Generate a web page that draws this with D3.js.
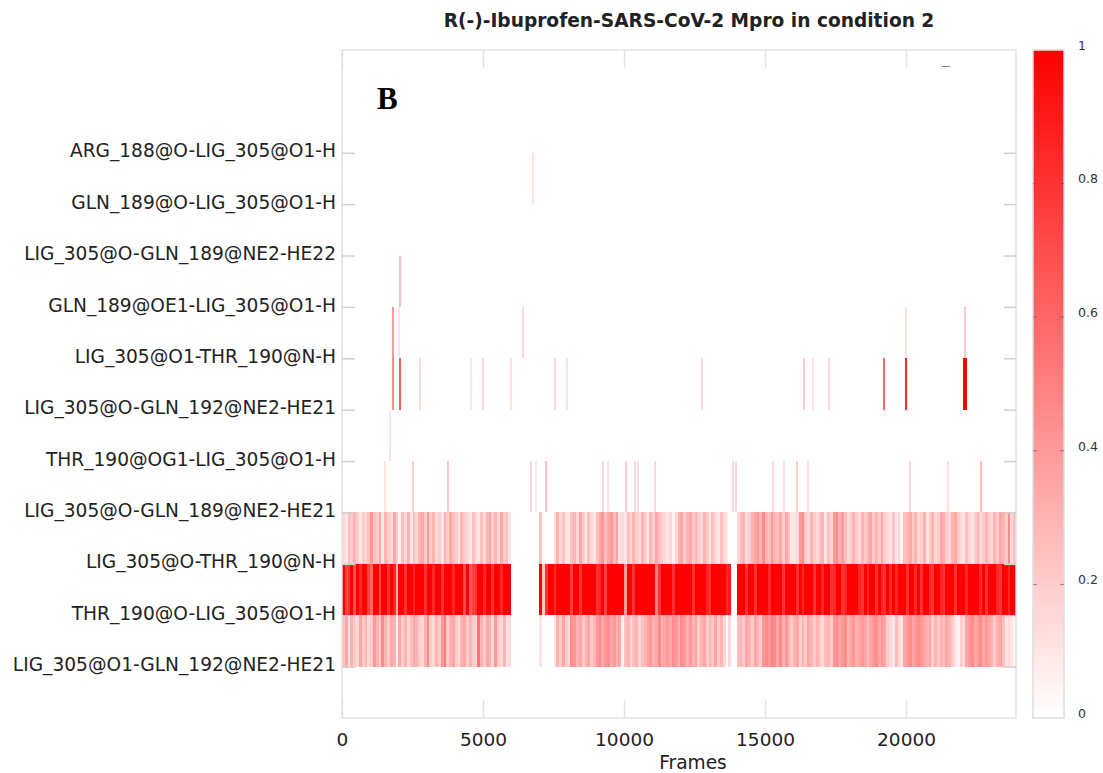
<!DOCTYPE html>
<html>
<head>
<meta charset="utf-8">
<script src="https://cdn.jsdelivr.net/npm/d3@7"></script>
<style>
  body { margin: 0; background: #fff; }
  svg { display: block; }
</style>
</head>
<body>
<div id="chart"></div>
<script>
// hydrogen bond occupancy per frame (binned, 100 frames per bin)
const rowLabels = [
  "ARG_188@O-LIG_305@O1-H",
  "GLN_189@O-LIG_305@O1-H",
  "LIG_305@O-GLN_189@NE2-HE22",
  "GLN_189@OE1-LIG_305@O1-H",
  "LIG_305@O1-THR_190@N-H",
  "LIG_305@O-GLN_192@NE2-HE21",
  "THR_190@OG1-LIG_305@O1-H",
  "LIG_305@O-GLN_189@NE2-HE21",
  "LIG_305@O-THR_190@N-H",
  "THR_190@O-LIG_305@O1-H",
  "LIG_305@O1-GLN_192@NE2-HE21"
];

const binSize = 100;
const frameMax = 23900;
const xTicks = [0, 5000, 10000, 15000, 20000];
const colorTicks = [0, 0.2, 0.4, 0.6, 0.8, 1];

// sparse events: [row, frame, value]
const sparseEvents = [
  [0, 6738, 0.12],
  [2, 2021, 0.25],
  [3, 1773, 0.4], [3, 1986, 0.1], [3, 6383, 0.15], [3, 19965, 0.12], [3, 22057, 0.22],
  [4, 1773, 0.45], [4, 2021, 0.65], [4, 2730, 0.15], [4, 4539, 0.1], [4, 4965, 0.15],
  [4, 5957, 0.12], [4, 7518, 0.15], [4, 7943, 0.12], [4, 12730, 0.15], [4, 16348, 0.2],
  [4, 16667, 0.12], [4, 17234, 0.15], [4, 19184, 0.6], [4, 19965, 0.85],
  [4, 22030, 1], [4, 22090, 1],
  [5, 1667, 0.12],
  [6, 1489, 0.1], [6, 2482, 0.2], [6, 3712, 0.2], [6, 6667, 0.15], [6, 6844, 0.1],
  [6, 7199, 0.25], [6, 9231, 0.15], [6, 9385, 0.12], [6, 10047, 0.2], [6, 10366, 0.15],
  [6, 10449, 0.12], [6, 11064, 0.15], [6, 13830, 0.15], [6, 13930, 0.15], [6, 15237, 0.15],
  [6, 15650, 0.12], [6, 16099, 0.2], [6, 16500, 0.12], [6, 20106, 0.15], [6, 21442, 0.12],
  [6, 22624, 0.25]
];

// row 7: LIG_305@O-GLN_189@NE2-HE21
const glnHE21 = [
  0.15,0.1,0.25,0.2,0.3,0.2,0.1,0.2,0.15,0.25,
  0.4,0.25,0.2,0.35,0.1,0.3,0.2,0.15,0.35,0.2,
  0.05,0.25,0.15,0.3,0.1,0.25,0.15,0.3,0.35,0.2,
  0.4,0.2,0.3,0.15,0.2,0.1,0.3,0.2,0.35,0.25,
  0.2,0.1,0.3,0.2,0.15,0.1,0.25,0.15,0.1,0.25,
  0.15,0.3,0.35,0.2,0.3,0.15,0.35,0.2,0.25,0.1,
  0,0,0,0,0,0,0,0,0,0,
  0.25,0,0,0,0,0.15,0.3,0.15,0.25,0.1,
  0.1,0.25,0.3,0.15,0.35,0.2,0.1,0.25,0.15,0.1,
  0.25,0.35,0.4,0.25,0.35,0.4,0.25,0.35,0.1,0.15,
  0.1,0.25,0.15,0.3,0.2,0.15,0.3,0.2,0.1,0.3,
  0.2,0.35,0.25,0.2,0.15,0.1,0.15,0.05,0.15,0.3,
  0.35,0.2,0.3,0.35,0.2,0.3,0.2,0.15,0.3,0.2,
  0.1,0.25,0.15,0.1,0.25,0.15,0.1,0,0,0,
  0.15,0.25,0.3,0.15,0.2,0.3,0.35,0.4,0.3,0.45,
  0.3,0.25,0.4,0.3,0.25,0.35,0.2,0.35,0.25,0.1,
  0.1,0.15,0.4,0.45,0.2,0.15,0.3,0.2,0.15,0.25,
  0.3,0.1,0.25,0.15,0.4,0.45,0.3,0.4,0.25,0.15,
  0.2,0.3,0.2,0.15,0.3,0.2,0.3,0.35,0.2,0.3,
  0.2,0.35,0.2,0.15,0.1,0.25,0.1,0.15,0.05,0.25,
  0.3,0.35,0.2,0.3,0.15,0.2,0.3,0.1,0.2,0.3,
  0.15,0.2,0.35,0.3,0.2,0.15,0.3,0.35,0.2,0.15,
  0.1,0.25,0.15,0.1,0.2,0.3,0.15,0.2,0.3,0.2,
  0.15,0.3,0.2,0.35,0.3,0.2,0.45,0.15,0.25
];

// row 8: LIG_305@O-THR_190@N-H
const thrNH = [
  1,0.75,0.8,1,0.7,1,0.85,1,1,0.75,
  0.6,1,1,0.7,1,1,0.8,1,0.85,0.3,
  1,1,0.8,1,1,0.85,1,1,1,0.8,
  1,1,0.85,1,1,0.8,1,1,1,0.85,
  1,1,1,0.7,1,0.65,0.75,0.8,1,1,
  0.85,1,1,0.8,1,1,0.85,1,1,1,
  0,0,0,0,0,0,0,0,0,0,
  1,0.2,0.8,1,1,0.85,1,1,1,1,
  1,0.75,1,1,0.8,1,1,1,1,1,
  0.8,0.85,1,0.75,1,1,1,1,1,1,
  0.4,1,1,0.8,1,1,1,1,1,1,
  1,0.5,0.8,1,1,1,1,0.8,1,1,
  1,1,1,1,0.8,1,1,1,1,0.85,
  0.8,1,1,1,1,1,0.85,0.9,0,0,
  1,1,1,0.8,1,1,0.8,1,1,1,
  1,0.85,1,1,1,1,0.8,1,1,1,
  1,0.8,1,0.85,1,1,1,0.8,1,1,
  0.85,1,1,0.8,0.85,1,1,0.8,0.85,1,
  1,1,1,0.85,0.8,1,0.85,1,1,0.8,
  1,0.85,0.8,1,0.85,1,0.85,1,1,1,
  0.8,1,1,0.85,1,0.8,1,1,0.85,0.8,
  1,1,0.85,0.8,1,1,1,0.8,1,1,
  1,0.85,1,1,1,1,0.85,1,0.8,1,
  1,1,0.85,0.8,1,1,0.85,1,1
];

// row 9: THR_190@O-LIG_305@O1-H
const thrO = [
  0.25,0.35,0.1,0.3,0.2,0.15,0.35,0.2,0.3,0.15,
  0.2,0.4,0.3,0.2,0.45,0.3,0.2,0.35,0.3,0.05,
  0.35,0.2,0.3,0.15,0.25,0.35,0.3,0.2,0.15,0.3,
  0.45,0.2,0.15,0.3,0.2,0.4,0.5,0.2,0.3,0.35,
  0.2,0.15,0.3,0.35,0.2,0.3,0.2,0.15,0.55,0.3,
  0.2,0.35,0.3,0.15,0.4,0.2,0.15,0.3,0.1,0.15,
  0,0,0,0,0,0,0,0,0,0,
  0.1,0,0,0,0,0.1,0.3,0.2,0.35,0.2,
  0.15,0.45,0.4,0.3,0.35,0.2,0.3,0.35,0.2,0.3,
  0.4,0.45,0.35,0.4,0.45,0.35,0.4,0.3,0.35,0.05,
  0.25,0.3,0.15,0.25,0.3,0.15,0.25,0.3,0.35,0.4,
  0.3,0.35,0.45,0.3,0.35,0.4,0.35,0.45,0.4,0.3,
  0.45,0.4,0.3,0.4,0.3,0.35,0.2,0.3,0.35,0.2,
  0.3,0.2,0.35,0.2,0.3,0.15,0,0.15,0,0,
  0.25,0.3,0.2,0.35,0.3,0.2,0.35,0.3,0.2,0.4,
  0.45,0.4,0.5,0.45,0.35,0.45,0.3,0.4,0.3,0.2,
  0.3,0.35,0.2,0.3,0.2,0.35,0.3,0.2,0.3,0.2,
  0.15,0.25,0.3,0.2,0.4,0.45,0.35,0.4,0.45,0.3,
  0.35,0.4,0.3,0.35,0.4,0.35,0.25,0.35,0.4,0.45,
  0.35,0.4,0.35,0.2,0.15,0.1,0.25,0.15,0.1,0.35,
  0.4,0.45,0.35,0.4,0.45,0.4,0.35,0.3,0.35,0.2,
  0.3,0.2,0.3,0.25,0.35,0.3,0.2,0.1,0.05,0.2,
  0.15,0.35,0.4,0.45,0.35,0.4,0.45,0.35,0.4,0.35,
  0.3,0.2,0.3,0.35,0.25,0.1,0.15,0.1,0.05
];

const denseRows = [
  { row: 7, values: glnHE21 },
  { row: 8, values: thrNH },
  { row: 9, values: thrO }
];

const width = 1103, height = 773;
const plot = { left: 342, right: 1016, top: 50, bottom: 718 };
const FONT = "'DejaVu Sans', sans-serif";

const svg = d3.select("#chart").append("svg")
  .attr("width", width)
  .attr("height", height)
  .attr("font-family", FONT);

const x = d3.scaleLinear().domain([0, frameMax]).range([plot.left, plot.right]);
const y = d3.scaleLinear().domain([-2, rowLabels.length]).range([plot.top, plot.bottom]);
const color = d3.scaleLinear().domain([0, 1]).range(["#ffffff", "#ff0000"]);

// dense rows, one rect per bin
const cells = [];
denseRows.forEach(d => {
  d.values.forEach((v, k) => {
    if (v > 0) cells.push({ row: d.row, f0: k * binSize, f1: (k + 1) * binSize, v });
  });
});
sparseEvents.forEach(([row, f, v]) => cells.push({ row, f0: f, f1: f + 70, v }));

svg.append("g")
  .attr("shape-rendering", "crispEdges")
  .selectAll("rect")
  .data(cells)
  .join("rect")
    .attr("x", d => x(d.f0))
    .attr("width", d => Math.max(1, x(d.f1) - x(d.f0)))
    .attr("y", d => y(d.row))
    .attr("height", d => y(d.row + 1) - y(d.row))
    .attr("fill", d => color(d.v));

// frame
svg.append("rect")
  .attr("x", plot.left).attr("y", plot.top)
  .attr("width", plot.right - plot.left).attr("height", plot.bottom - plot.top)
  .attr("fill", "none").attr("stroke", "#e2e2e2").attr("stroke-width", 1.5);

// axes
const styleAxis = (g, col) => {
  g.attr("font-family", FONT);
  g.select(".domain").remove();
  g.selectAll(".tick line").attr("stroke", col).attr("stroke-width", 1.5);
};

svg.append("g")
  .attr("transform", `translate(0,${plot.bottom})`)
  .call(d3.axisBottom(x).tickValues(xTicks).tickSize(-18).tickPadding(15).tickFormat(d3.format("d")))
  .call(g => styleAxis(g, "#e4e4e4"))
  .call(g => g.selectAll("text").attr("font-size", 18.5).attr("fill", "#222"));

svg.append("g")
  .attr("transform", `translate(0,${plot.top})`)
  .call(d3.axisTop(x).tickValues(xTicks).tickSize(-18).tickFormat(""))
  .call(g => styleAxis(g, "#e4e4e4"));

svg.append("g")
  .attr("transform", `translate(${plot.left},0)`)
  .call(d3.axisLeft(y).tickValues(d3.range(rowLabels.length)).tickSize(-13).tickPadding(6)
    .tickFormat(i => rowLabels[i]))
  .call(g => styleAxis(g, "#cfcfcf"))
  .call(g => g.selectAll("text").attr("font-size", 18.6).attr("fill", "#222").attr("dy", "0.22em"));

svg.append("g")
  .attr("transform", `translate(${plot.right},0)`)
  .call(d3.axisRight(y).tickValues(d3.range(rowLabels.length)).tickSize(-12).tickFormat(""))
  .call(g => styleAxis(g, "#cfcfcf"));

// axis title
svg.append("text")
  .attr("x", 693).attr("y", 769)
  .attr("text-anchor", "middle")
  .attr("font-size", 18.6).attr("fill", "#222")
  .text("Frames");

// chart title
svg.append("text")
  .attr("x", 689).attr("y", 27)
  .attr("text-anchor", "middle")
  .attr("font-size", 18.6).attr("font-weight", "bold").attr("fill", "#222")
  .text("R(-)-Ibuprofen-SARS-CoV-2 Mpro in condition 2");

// panel letter
svg.append("text")
  .attr("x", 377).attr("y", 109)
  .attr("font-family", "'Liberation Serif', serif")
  .attr("font-size", 31).attr("font-weight", "bold").attr("fill", "#000")
  .text("B");

// tiny key mark
svg.append("line")
  .attr("x1", 942).attr("x2", 950).attr("y1", 66.5).attr("y2", 66.5)
  .attr("stroke", "#888").attr("stroke-width", 1);

// colour bar
const cb = { left: 1033, right: 1064 };
const cy = d3.scaleLinear().domain([0, 1]).range([plot.bottom, plot.top]);

const grad = svg.append("defs").append("linearGradient")
  .attr("id", "cbGrad").attr("x1", 0).attr("x2", 0).attr("y1", 1).attr("y2", 0);
grad.append("stop").attr("offset", 0).attr("stop-color", color(0));
grad.append("stop").attr("offset", 1).attr("stop-color", color(1));

svg.append("rect")
  .attr("x", cb.left).attr("y", plot.top)
  .attr("width", cb.right - cb.left).attr("height", plot.bottom - plot.top)
  .attr("fill", "url(#cbGrad)")
  .attr("stroke", "#dedede").attr("stroke-width", 1.5);

const inner = colorTicks.filter(t => t > 0 && t < 1);
svg.append("g").selectAll("line")
  .data(inner.flatMap(t => [[cb.left, t], [cb.right - 4, t]]))
  .join("line")
    .attr("x1", d => d[0]).attr("x2", d => d[0] + 4)
    .attr("y1", d => cy(d[1])).attr("y2", d => cy(d[1]))
    .attr("stroke", "#555").attr("stroke-opacity", 0.6);

svg.append("g")
  .attr("transform", `translate(${cb.right},0)`)
  .call(d3.axisRight(cy).tickValues(colorTicks).tickSize(0).tickPadding(14)
    .tickFormat(d => d3.format("~g")(d)))
  .call(g => g.attr("font-family", FONT).select(".domain").remove())
  .call(g => g.selectAll("text").attr("font-size", 12.5).attr("fill", "#333").attr("dy", "-0.05em"));
</script>
</body>
</html>
